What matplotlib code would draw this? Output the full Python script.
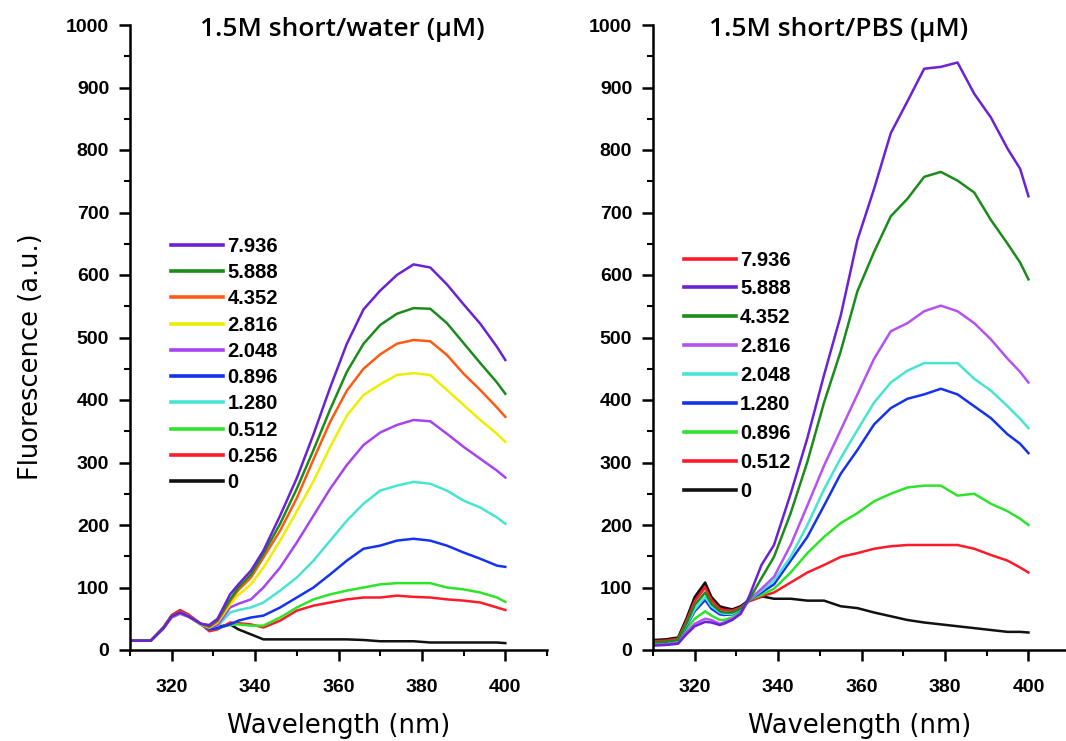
import matplotlib
matplotlib.use("Agg")
import matplotlib.pyplot as plt
from matplotlib.ticker import MultipleLocator
from matplotlib.lines import Line2D

# ---------------- Left panel: 1.5M short / water ----------------
wl_water = [310, 315, 318, 320, 322, 324, 327, 329, 331, 334, 336, 339, 342, 346,
            350, 354, 358, 362, 366, 370, 374, 378, 382, 386, 390, 394, 398, 400]
water_labels = ["7.936", "5.888", "4.352", "2.816", "2.048", "0.896", "1.280", "0.512", "0.256", "0"]
water_7936 = [15, 15, 35, 54, 60, 54, 42, 40, 50, 89, 105, 127, 159, 215,
              275, 345, 420, 490, 545, 575, 600, 617, 612, 585, 553, 522, 485, 464]
water_5888 = [15, 15, 35, 54, 60, 54, 42, 38, 48, 81, 100, 121, 154, 202,
              258, 320, 385, 445, 490, 520, 538, 547, 546, 523, 491, 459, 428, 410]
water_4352 = [15, 15, 35, 54, 61, 55, 42, 37, 46, 78, 96, 116, 148, 191,
              243, 305, 365, 415, 450, 473, 490, 496, 494, 472, 442, 416, 388, 373]
water_2816 = [15, 15, 35, 54, 60, 54, 41, 36, 44, 73, 88, 105, 132, 175,
              222, 270, 325, 375, 408, 425, 440, 443, 440, 416, 392, 368, 346, 333]
water_2048 = [15, 15, 34, 52, 58, 53, 41, 35, 40, 68, 74, 81, 100, 132,
              172, 215, 258, 296, 328, 348, 360, 368, 366, 346, 325, 306, 287, 276]
water_0896 = [15, 15, 35, 54, 61, 55, 41, 33, 35, 41, 47, 52, 55, 68,
              84, 100, 121, 143, 162, 167, 175, 178, 175, 167, 156, 146, 135, 133]
water_1280 = [15, 15, 35, 54, 60, 54, 41, 34, 38, 60, 64, 68, 76, 95,
              116, 143, 175, 207, 234, 255, 263, 269, 266, 255, 239, 228, 212, 202]
water_0512 = [15, 15, 35, 54, 61, 55, 41, 33, 35, 40, 41, 39, 39, 52,
              68, 81, 89, 95, 100, 105, 107, 107, 107, 100, 97, 92, 84, 77]
water_0256 = [15, 15, 36, 56, 64, 57, 42, 30, 33, 44, 43, 41, 36, 47,
              63, 71, 76, 81, 84, 84, 87, 85, 84, 81, 79, 76, 68, 64]
water_0 = [15, 15, 36, 55, 62, 55, 41, 33, 37, 41, 33, 25, 17, 17,
           17, 17, 17, 17, 16, 14, 14, 14, 12, 12, 12, 12, 12, 11]
water_series = [water_7936, water_5888, water_4352, water_2816, water_2048,
                water_0896, water_1280, water_0512, water_0256, water_0]
water_colors = ["#6a22d6", "#1b8c1b", "#ff5a14", "#eeee00", "#a644f0",
                "#1533ee", "#48e4d2", "#2ee42a", "#ff1a2a", "#111111"]

# ---------------- Right panel: 1.5M short / PBS ----------------
wl_pbs = [310, 313, 316, 318, 320, 322.5, 324, 326, 327, 329, 331, 333, 336, 339,
          343, 347, 351, 355, 359, 363, 367, 371, 375, 379, 383, 387, 391, 395, 398, 400]
wl_pbs_7936 = [310, 313, 316, 318, 320, 322.5, 324, 326, 327, 329, 331, 333, 336]
pbs_labels = ["7.936", "5.888", "4.352", "2.816", "2.048", "1.280", "0.896", "0.512", "0"]
pbs_7936 = [15, 16, 18, 48, 82, 102, 82, 68, 66, 64, 68, 78, 85]
pbs_5888 = [7, 8, 10, 25, 38, 45, 44, 40, 42, 48, 58, 85, 136, 168,
            250, 339, 440, 535, 656, 738, 827, 878, 930, 933, 940, 890, 852, 802, 770, 726]
pbs_4352 = [12, 13, 16, 42, 72, 92, 74, 62, 60, 60, 66, 80, 115, 149,
            219, 301, 396, 478, 574, 637, 694, 722, 757, 765, 751, 732, 688, 650, 620, 593]
pbs_2816 = [8, 9, 11, 28, 42, 50, 48, 42, 44, 50, 58, 80, 98, 117,
            168, 231, 295, 352, 409, 466, 510, 523, 542, 551, 542, 523, 497, 466, 445, 428]
pbs_2048 = [11, 12, 15, 40, 65, 85, 70, 60, 58, 58, 65, 80, 95, 111,
            149, 200, 257, 307, 352, 396, 428, 447, 459, 459, 459, 434, 415, 390, 370, 355]
pbs_1280 = [10, 11, 14, 38, 62, 80, 66, 57, 56, 57, 64, 80, 92, 105,
            143, 181, 231, 282, 320, 361, 387, 402, 409, 418, 409, 390, 371, 345, 330, 315]
pbs_0896 = [9, 10, 12, 33, 50, 62, 55, 48, 48, 52, 60, 80, 88, 98,
            124, 155, 181, 203, 219, 238, 250, 260, 263, 263, 247, 250, 234, 222, 210, 200]
pbs_0512 = [14, 15, 18, 46, 78, 100, 80, 66, 64, 63, 68, 78, 86, 92,
            108, 124, 136, 149, 155, 162, 166, 168, 168, 168, 168, 162, 152, 143, 132, 124]
pbs_0 = [16, 17, 20, 50, 85, 108, 85, 70, 68, 65, 70, 80, 86, 82,
         82, 79, 79, 70, 67, 60, 54, 48, 44, 41, 38, 35, 32, 29, 29, 28]
pbs_series = [pbs_7936, pbs_5888, pbs_4352, pbs_2816, pbs_2048,
              pbs_1280, pbs_0896, pbs_0512, pbs_0]
pbs_colors = ["#ff1a2a", "#6a22d6", "#1b8c1b", "#b452f2", "#48e4d2",
              "#1533ee", "#2ee42a", "#ff1a2a", "#111111"]

plt.rcParams["font.family"] = ["Liberation Sans", "DejaVu Sans"]
plt.rcParams["font.weight"] = "bold"
plt.rcParams["xtick.labelsize"] = 14
plt.rcParams["ytick.labelsize"] = 14

fig = plt.figure(figsize=(10.66, 7.41), dpi=100)
ax1 = fig.add_axes([130 / 1066, 1 - 650 / 741, 417 / 1066, 625 / 741])
ax2 = fig.add_axes([653 / 1066, 1 - 650 / 741, 413 / 1066, 625 / 741])

axis_font = dict(family="DejaVu Sans", fontsize=18.5, weight="normal")
legend_font = dict(family="Liberation Sans", weight="bold", size=14.5)


def style(ax, xmax):
    ax.set_xlim(310, xmax)
    ax.set_ylim(0, 1000)
    for s in ("top", "right"):
        ax.spines[s].set_visible(False)
    for s in ("left", "bottom"):
        ax.spines[s].set_linewidth(1.8)
    ax.xaxis.set_major_locator(MultipleLocator(20))
    ax.xaxis.set_minor_locator(MultipleLocator(10))
    ax.yaxis.set_major_locator(MultipleLocator(100))
    ax.yaxis.set_minor_locator(MultipleLocator(50))
    ax.tick_params(which="major", direction="out", length=8, width=1.8)
    ax.tick_params(which="minor", direction="out", length=4, width=1.5)
    ax.tick_params(axis="x", which="major", pad=13)
    ax.tick_params(axis="y", which="major", pad=7)
    ax.set_xlabel("Wavelength (nm)", labelpad=12, **axis_font)


# left panel
for vals, col, lab in reversed(list(zip(water_series, water_colors, water_labels))):
    ax1.plot(wl_water, vals, color=col, lw=1.8, label=lab)
style(ax1, 410)
ax1.set_ylabel("Fluorescence (a.u.)", labelpad=16, **axis_font)
ax1.yaxis.label.set_y(0.47)
h1 = [Line2D([], [], color=c, lw=2.6) for c in water_colors]
ax1.legend(h1, water_labels, loc="upper left", bbox_to_anchor=(0.055, 0.69),
           frameon=False, handlelength=2.6, handletextpad=0.2,
           labelspacing=0.36, prop=legend_font)

# right panel
ax2.plot(wl_pbs_7936, pbs_7936, color=pbs_colors[0], lw=1.8)
for vals, col in reversed(list(zip(pbs_series[1:], pbs_colors[1:]))):
    ax2.plot(wl_pbs, vals, color=col, lw=1.8)
style(ax2, 409)
h2 = [Line2D([], [], color=c, lw=2.6) for c in pbs_colors]
ax2.legend(h2, pbs_labels, loc="upper left", bbox_to_anchor=(0.03, 0.668),
           frameon=False, handlelength=2.6, handletextpad=0.2,
           labelspacing=0.49, prop=legend_font)

fig.text(342 / 1066, 1 - 29 / 741, "1.5M short/water (µM)", ha="center", va="center",
         family="Open Sans", fontsize=19, weight="semibold")
fig.text(839 / 1066, 1 - 29 / 741, "1.5M short/PBS (µM)", ha="center", va="center",
         family="Open Sans", fontsize=19, weight="semibold")

fig.savefig("out.png", dpi=100)
